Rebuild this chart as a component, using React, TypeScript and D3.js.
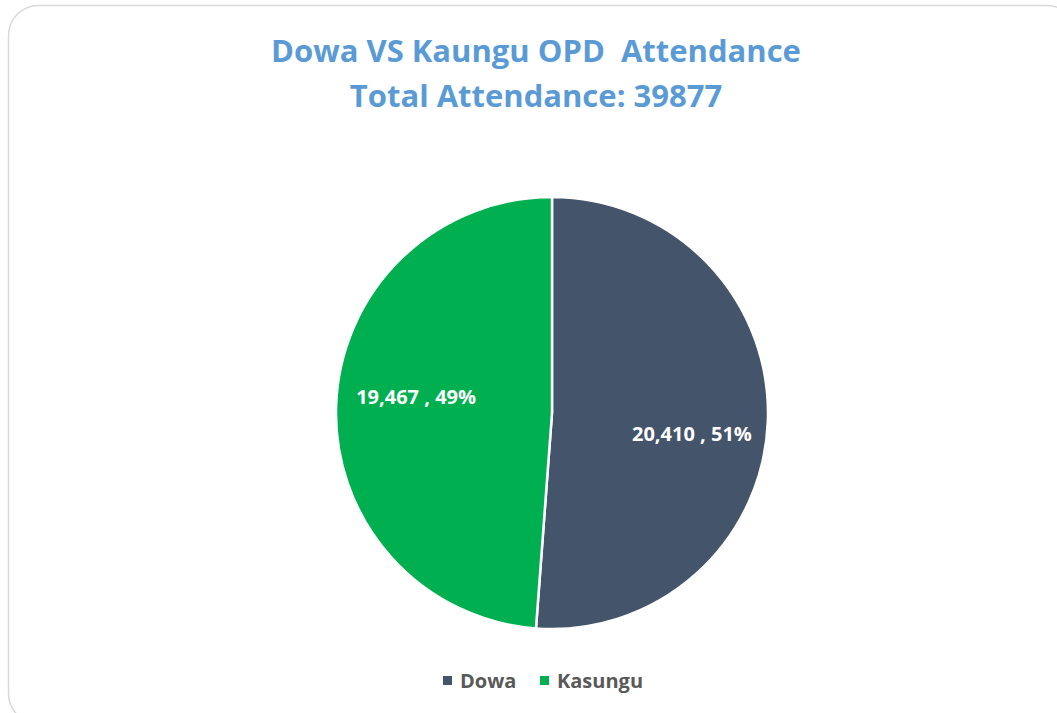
import React, { useEffect, useRef } from 'react';
import * as d3 from 'd3';

const districts = ['Dowa', 'Kasungu'];
const attendance = [20410, 19467];
const colors = ['#44546A', '#00B050'];
const titleLines = ['Dowa VS Kaungu OPD  Attendance', 'Total Attendance: 39877'];

export default function App() {
  const ref = useRef<SVGSVGElement | null>(null);

  useEffect(() => {
    const svg = d3.select(ref.current);
    svg.selectAll('*').remove();
    const font = '"Open Sans", sans-serif';

    svg.append('rect')
      .attr('x', 8.5).attr('y', 5.5).attr('width', 1068).attr('height', 718)
      .attr('rx', 30).attr('ry', 30)
      .attr('fill', '#fff').attr('stroke', '#d9d9d9').attr('stroke-width', 1.5);

    svg.append('text')
      .attr('text-anchor', 'middle')
      .style('white-space', 'pre')
      .attr('font-family', font).attr('font-weight', 700).attr('font-size', 31)
      .attr('fill', '#5B9BD5')
      .selectAll('tspan').data(titleLines).enter().append('tspan')
      .attr('x', 536).attr('y', (_, i) => 62 + i * 45)
      .text(d => d);

    const data = districts.map((name, i) => ({ name, value: attendance[i] }));
    const total = d3.sum(data, d => d.value);
    const radius = 216;
    const cx = 552, cy = 413;
    const pie = d3.pie<{ name: string; value: number }>().value(d => d.value).sort(null);
    const arcs = pie(data);
    const arc = d3.arc<d3.PieArcDatum<{ name: string; value: number }>>().innerRadius(0).outerRadius(radius);
    const labelArc = d3.arc<d3.PieArcDatum<{ name: string; value: number }>>().innerRadius(138).outerRadius(138);

    const g = svg.append('g').attr('transform', `translate(${cx},${cy})`);
    g.selectAll('path').data(arcs).enter().append('path')
      .attr('d', arc)
      .attr('fill', (_, i) => colors[i])
      .attr('stroke', '#fff').attr('stroke-width', 2.5);

    const fmt = d3.format(',');
    g.selectAll('text.lbl').data(arcs).enter().append('text')
      .attr('class', 'lbl')
      .attr('transform', d => {
        const [x, y] = labelArc.centroid(d);
        return `translate(${x + (x > 0 ? 2 : 2)},${y + (x > 0 ? 16 : -11)})`;
      })
      .attr('text-anchor', 'middle').attr('dy', '0.35em')
      .attr('font-family', font).attr('font-weight', 700).attr('font-size', 20)
      .attr('fill', '#fff')
      .text(d => `${fmt(d.data.value)} , ${Math.round((d.data.value / total) * 100)}%`);

    const legend = svg.append('g').attr('transform', 'translate(443,681)');
    const items = legend.selectAll('g').data(data).enter().append('g')
      .attr('transform', (_, i) => `translate(${i * 97},0)`);
    items.append('rect').attr('x', 0).attr('y', -5).attr('width', 9).attr('height', 9)
      .attr('fill', (_, i) => colors[i]);
    items.append('text').attr('x', 17).attr('y', 0).attr('dy', '0.35em')
      .attr('font-family', font).attr('font-weight', 700).attr('font-size', 20)
      .attr('fill', '#595959')
      .text(d => d.name);
  }, []);

  return (
    <svg ref={ref} width={1057} height={713}
      style={{ position: 'absolute', left: 0, top: 0, display: 'block' }} />
  );
}
